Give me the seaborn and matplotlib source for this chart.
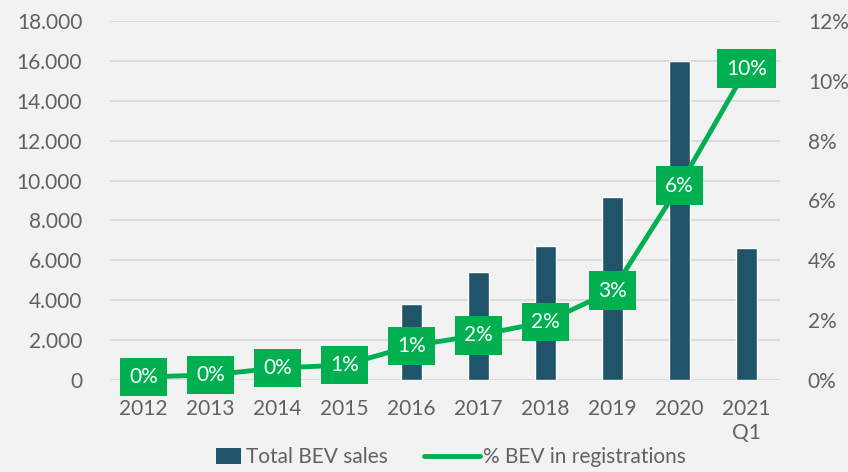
import matplotlib
matplotlib.use("Agg")
import matplotlib.pyplot as plt
import seaborn as sns
import pandas as pd
from matplotlib.patches import Patch
from matplotlib.lines import Line2D

categories = ["2012", "2013", "2014", "2015", "2016", "2017", "2018", "2019", "2020", "2021\nQ1"]
bev_sales = [100, 200, 400, 900, 3800, 5400, 6700, 9200, 16000, 6600]
bev_share = [0.1, 0.17, 0.4, 0.5, 1.14, 1.5, 1.94, 2.98, 6.5, 10.4]
share_labels = ["0%", "0%", "0%", "1%", "1%", "2%", "2%", "3%", "6%", "10%"]
left_ticks = [0, 2000, 4000, 6000, 8000, 10000, 12000, 14000, 16000, 18000]
right_ticks = [0, 2, 4, 6, 8, 10, 12]

BG = "#F2F2F2"
BAR = "#1F546B"
GREEN = "#00B050"
TXT = "#616161"
GRID = "#D9D9D9"
FS = 15

sns.set_theme(style="white")
plt.rcParams["font.family"] = ["Lato", "DejaVu Sans"]
plt.rcParams["font.weight"] = "normal"

df = pd.DataFrame({"cat": categories, "sales": bev_sales, "share": bev_share})

fig = plt.figure(figsize=(8.48, 4.72), dpi=100, facecolor=BG)
ax = fig.add_axes([110 / 848, 1 - 380 / 472, 670 / 848, 359 / 472])
ax.set_facecolor(BG)

sns.barplot(data=df, x="cat", y="sales", color=BAR, width=0.31, ax=ax,
            saturation=1, zorder=3)
ax.set_ylim(0, 18000)
ax.set_xlim(-0.5, len(categories) - 0.5)
ax.set_yticks(left_ticks)
ax.set_yticklabels([f"{v:,}".replace(",", ".") for v in left_ticks])
ax.yaxis.grid(True, color=GRID, linewidth=1.3, zorder=0)
ax.set_axisbelow(True)
for s in ax.spines.values():
    s.set_visible(False)
ax.tick_params(axis="y", length=0, pad=20, labelsize=FS, labelcolor=TXT)
ax.tick_params(axis="x", length=0, pad=14, labelsize=FS, labelcolor=TXT)
ax.set_xlabel("")
ax.set_ylabel("")
for lbl in ax.get_xticklabels():
    lbl.set_linespacing(1.2)

ax2 = ax.twinx()
ax2.patch.set_visible(False)
sns.pointplot(data=df, x="cat", y="share", color=GREEN, markers="", linewidth=3.5,
              ax=ax2, zorder=4)
ax2.set_ylim(0, 12)
ax2.set_yticks(right_ticks)
ax2.set_yticklabels([f"{v}%" for v in right_ticks])
for s in ax2.spines.values():
    s.set_visible(False)
ax2.tick_params(axis="y", length=0, pad=20, labelsize=FS, labelcolor=TXT)
ax2.set_xlabel("")
ax2.set_ylabel("")
ax2.grid(False)

for i, (v, t) in enumerate(zip(bev_share, share_labels)):
    ax2.text(i, v, t, ha="center", va="center", color="white", fontsize=FS,
             zorder=6,
             bbox=dict(boxstyle="square,pad=0.45", facecolor=GREEN, edgecolor="none"))

leg1 = fig.legend([Patch(facecolor=BAR, edgecolor="none")], ["Total BEV sales"],
                  loc="center", bbox_to_anchor=(302 / 848, 1 - 457 / 472),
                  frameon=False, fontsize=FS, labelcolor=TXT, handlelength=1.2,
                  handleheight=0.8, handletextpad=0.25)
leg2 = fig.legend([Line2D([0], [0], color=GREEN, linewidth=3.5, solid_capstyle="round")],
                  ["% BEV in registrations"], loc="center",
                  bbox_to_anchor=(555 / 848, 1 - 457 / 472), frameon=False,
                  fontsize=FS, labelcolor=TXT, handlelength=2.7, handletextpad=0.15)

fig.savefig("out.png", dpi=100, facecolor=BG)
